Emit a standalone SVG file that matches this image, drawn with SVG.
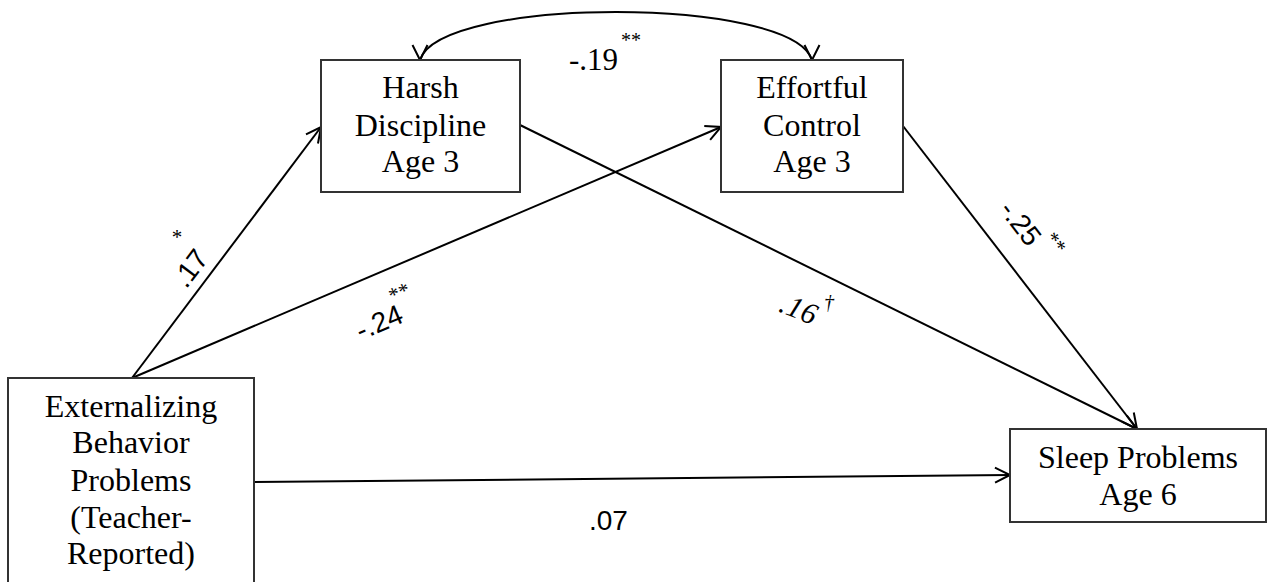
<svg xmlns="http://www.w3.org/2000/svg" width="1267" height="582" viewBox="0 0 1267 582">
<style>
.box{fill:#fff;stroke:#333;stroke-width:2}
.lbl{font-family:"Liberation Serif","Times New Roman",serif;font-size:32px;fill:#000;text-anchor:middle}
.num{font-family:"Liberation Sans",Arial,sans-serif;font-size:28px;fill:#000}
.ser{font-family:"Liberation Serif","Times New Roman",serif;fill:#000}
.sup{font-family:"Liberation Serif","Times New Roman",serif;font-size:21px;fill:#000;text-anchor:middle}
.edge{fill:none;stroke:#000;stroke-width:2}
</style>
<defs>
<marker id="arr" markerUnits="userSpaceOnUse" markerWidth="20" markerHeight="20" viewBox="-17 -10 20 20" refX="0" refY="0" orient="auto">
<path d="M-15,-7.5 L0,0 L-15,7.5" fill="none" stroke="#000" stroke-width="2"/>
</marker>
<marker id="arrdown" markerUnits="userSpaceOnUse" markerWidth="20" markerHeight="20" viewBox="-17 -10 20 20" refX="0" refY="0" orient="90">
<path d="M-15,-7.5 L0,0 L-15,7.5" fill="none" stroke="#000" stroke-width="2"/>
</marker>
</defs>
<g id="connectors">
<path class="edge" d="M420,60 C440,-4 792,-4 812,60" marker-start="url(#arrdown)" marker-end="url(#arrdown)"/>
<line class="edge" x1="132" y1="378" x2="321" y2="127" marker-end="url(#arr)"/>
<line class="edge" x1="132" y1="378" x2="721" y2="127" marker-end="url(#arr)"/>
<line class="edge" x1="520" y1="125" x2="1137" y2="429" marker-end="url(#arr)"/>
<line class="edge" x1="903" y1="126" x2="1137" y2="429" marker-end="url(#arr)"/>
<line class="edge" x1="254" y1="482" x2="1010" y2="475" marker-end="url(#arr)"/>
</g>
<g id="edge-labels">
<text class="ser" x="569" y="70" font-size="31">-.19</text>
<text class="ser" x="621" y="47" font-size="20">**</text>
<text class="num" text-anchor="middle" transform="translate(198,274) rotate(-53)">.17</text>
<text class="sup" x="177" y="244">*</text>
<text class="num" text-anchor="middle" transform="translate(383,331) rotate(-23)">-.24</text>
<text class="sup" transform="translate(402,299) rotate(-23)">**</text>
<text class="num" text-anchor="middle" transform="translate(1013,229) rotate(52.3)">-.25</text>
<text class="sup" transform="translate(1058,241) rotate(52.3)" y="10">**</text>
<text class="ser" font-size="30" font-style="italic" text-anchor="middle" transform="translate(795,318) rotate(22)">.16</text>
<text class="ser" font-size="20" font-style="italic" text-anchor="middle" x="829" y="309">†</text>
<text class="num" x="589" y="530">.07</text>
</g>
<g id="node-harsh">
<rect class="box" x="321" y="60" width="199" height="132"/>
<text class="lbl" x="420.5" y="98">Harsh</text>
<text class="lbl" x="420.5" y="136">Discipline</text>
<text class="lbl" x="420.5" y="172">Age 3</text>
</g>
<g id="node-effortful">
<rect class="box" x="721" y="60" width="182" height="132"/>
<text class="lbl" x="812" y="98">Effortful</text>
<text class="lbl" x="812" y="136">Control</text>
<text class="lbl" x="812" y="172">Age 3</text>
</g>
<g id="node-externalizing">
<rect class="box" x="8" y="378" width="246" height="230"/>
<text class="lbl" x="131" y="417">Externalizing</text>
<text class="lbl" x="131" y="453">Behavior</text>
<text class="lbl" x="131" y="491">Problems</text>
<text class="lbl" x="131" y="528">(Teacher-</text>
<text class="lbl" x="131" y="564">Reported)</text>
</g>
<g id="node-sleep">
<rect class="box" x="1010" y="429" width="256" height="93"/>
<text class="lbl" x="1138" y="468">Sleep Problems</text>
<text class="lbl" x="1138" y="505">Age 6</text>
</g>
</svg>
